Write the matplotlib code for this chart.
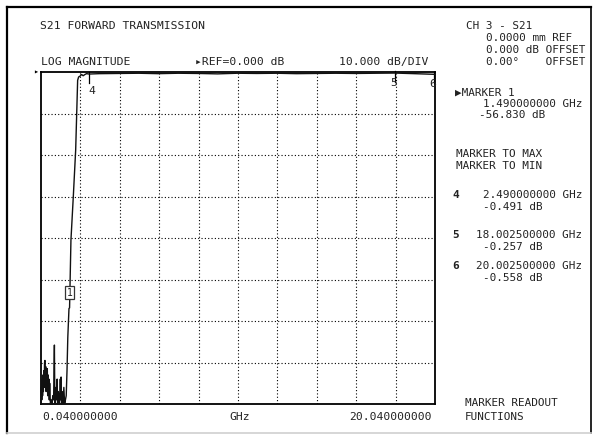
"""
S21 forward transmission, network analyser screen
"""
import matplotlib
matplotlib.use('Agg')
import matplotlib.pyplot as plt
from matplotlib.lines import Line2D

# Trace (GHz, dB)
trace_ghz = [0.04, 0.06, 0.08, 0.10, 0.12, 0.14, 0.16, 0.18, 0.20, 0.22, 0.24, 0.26,
             0.28, 0.30, 0.32, 0.34, 0.36, 0.38, 0.40, 0.42, 0.44, 0.46, 0.48, 0.50,
             0.52, 0.56, 0.60, 0.64, 0.68, 0.70, 0.72, 0.74, 0.76, 0.80, 0.84, 0.86,
             0.88, 0.92, 0.96, 1.00, 1.02, 1.04, 1.06, 1.08, 1.12, 1.16, 1.20, 1.24,
             1.28, 1.32, 1.36, 1.40, 1.46, 1.49, 1.56, 1.68, 1.80, 1.90, 1.95, 2.02,
             2.10, 2.18, 2.27, 2.35, 2.49, 3.0, 4.0, 5.0, 6.0, 7.0, 8.0, 9.0, 10.0,
             11.0, 12.0, 13.0, 14.0, 15.0, 16.0, 17.0, 18.0025, 19.0, 20.0025, 20.04]
trace_db = [-80, -76, -79, -74, -78, -73, -77, -72, -76, -70, -69.5, -75,
            -71, -77, -72, -76, -71.5, -78, -73, -77, -74, -79, -75, -78,
            -80, -79, -80, -78, -79, -72, -65.8, -78, -80, -76, -79, -74,
            -80, -77, -80, -78, -74, -79, -73.5, -80, -77, -80, -76, -80,
            -79, -78, -72, -64, -57, -56.83, -40.5, -30, -18.8, -2.0, -1.2, -1.0,
            -0.6, -0.9, -0.6, -0.4, -0.491, -0.4, -0.35, -0.3, -0.4, -0.3, -0.35, -0.45, -0.3,
            -0.35, -0.3, -0.4, -0.35, -0.3, -0.35, -0.3, -0.257, -0.4, -0.558, -0.6]

# Markers
marker_ids = ['1', '4', '5', '6']
marker_ghz = [1.49, 2.49, 18.0025, 20.0025]
marker_db = [-56.830, -0.491, -0.257, -0.558]

f_start, f_stop = 0.04, 20.04
ref_db, db_div, n_div_y = 0.0, 10.0, 8

W, H = 597, 441
fig = plt.figure(figsize=(W / 100, H / 100), dpi=100)
fig.patch.set_facecolor('white')

def px(x, y):
    return x / W, 1 - y / H

mono = ['DejaVu Sans Mono', 'DejaVu Sans']
fs = 8.2      # header / graticule labels
fs_r = 7.9    # right-hand softkey panel
tc = '#222222'

def txt(x, y, s, ha='left', size=fs, **kw):
    fx, fy = px(x, y)
    fig.text(fx, fy, s, ha=ha, va='center', family=mono, fontsize=size, color=tc, **kw)

# outer frame
fig.add_artist(Line2D([7 / W, 591 / W], [1 - 7 / H, 1 - 7 / H], color='black', lw=1.6))
fig.add_artist(Line2D([7 / W, 7 / W], [1 - 7 / H, 1 - 433 / H], color='black', lw=1.6))
fig.add_artist(Line2D([591 / W, 591 / W], [1 - 7 / H, 1 - 433 / H], color='black', lw=1.2))
fig.add_artist(Line2D([7 / W, 591 / W], [1 - 433 / H, 1 - 433 / H], color='#d0d0d0', lw=1.2))

# graticule
ax = fig.add_axes([41 / W, 1 - 404 / H, 394 / W, 332 / H])
ax.set_xlim(f_start, f_stop)
ax.set_ylim(ref_db - n_div_y * db_div, ref_db)
ax.set_xticks([f_start + 2 * i for i in range(1, 10)])
ax.set_yticks([ref_db - db_div * i for i in range(1, n_div_y)])
ax.tick_params(length=0, labelbottom=False, labelleft=False)
ax.grid(True, color='black', lw=0.8, linestyle=(0, (1, 2)))
for s in ax.spines.values():
    s.set_linewidth(1.3)
    s.set_color('black')

ax.plot(trace_ghz, trace_db, color='#111111', lw=1.0, clip_on=False, zorder=3)

# marker annotations
for mid, mf, md in zip(marker_ids, marker_ghz, marker_db):
    if mid == '1':
        ax.annotate(mid, xy=(mf, md), xytext=(0, 11), textcoords='offset points',
                    ha='center', va='center', family=mono, fontsize=7, color=tc,
                    bbox=dict(boxstyle='square,pad=0.15', fc='white', ec='#333333', lw=0.9))
    else:
        ax.plot([mf, mf], [md + 0.5, md - 2.2], color='black', lw=0.9, clip_on=False)
        dy = -12 if mid == '4' else -7
        dx = 2 if mid == '4' else -1
        ax.annotate(mid, xy=(mf, md), xytext=(dx, dy), textcoords='offset points',
                    ha='center', va='center', family=mono, fontsize=fs, color=tc)

# reference level pointer
fig.text(*px(36, 72), '\u25b8', ha='center', va='center', family=mono, fontsize=6, color='black')

# header texts
txt(40, 26, 'S21 FORWARD TRANSMISSION')
txt(41, 62, 'LOG MAGNITUDE')
txt(195, 62, '\u25b8REF=0.000 dB')
txt(428, 62, '10.000 dB/DIV', ha='right')

# bottom axis labels
txt(42, 417, '0.040000000')
txt(229, 417, 'GHz')
txt(432, 417, '20.040000000', ha='right')

# right panel
txt(466, 26, 'CH 3 - S21', size=fs_r)
txt(486, 38, '0.0000 mm REF', size=fs_r)
txt(486, 50, '0.000 dB OFFSET', size=fs_r)
txt(486, 62, '0.00\u00b0    OFFSET', size=fs_r)

txt(455, 93, '\u25b6MARKER 1', size=fs_r)
txt(582, 104, '%.9f GHz' % marker_ghz[0], ha='right', size=fs_r)
txt(545, 115, '%.3f dB' % marker_db[0], ha='right', size=fs_r)

txt(456, 154, 'MARKER TO MAX', size=fs_r)
txt(456, 166, 'MARKER TO MIN', size=fs_r)

rows_y = [195, 235, 266]
for mid, mf, md, yy in zip(marker_ids[1:], marker_ghz[1:], marker_db[1:], rows_y):
    txt(452, yy, mid, fontweight='bold', size=fs_r)
    txt(582, yy, '%.9f GHz' % mf, ha='right', size=fs_r)
    txt(543, yy + 12, '%.3f dB' % md, ha='right', size=fs_r)

txt(465, 403, 'MARKER READOUT', size=fs_r)
txt(465, 417, 'FUNCTIONS', size=fs_r)

plt.savefig('out.png', dpi=100, facecolor='white')
